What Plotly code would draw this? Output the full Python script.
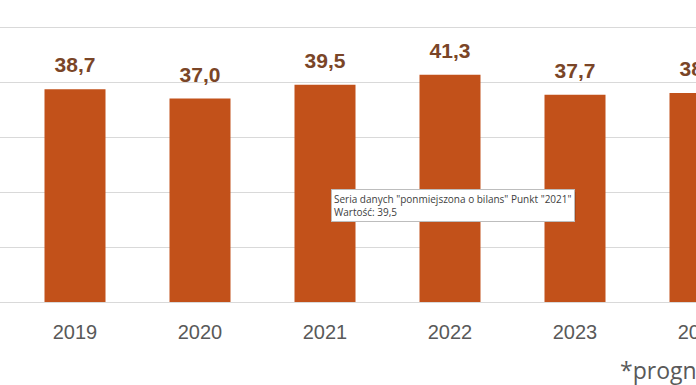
import plotly.graph_objects as go

years = ["2019", "2020", "2021", "2022", "2023", "2024"]
values = [38.7, 37.0, 39.5, 41.3, 37.7, 38.0]
labels = ["38,7", "37,0", "39,5", "41,3", "37,7", "38,0"]
y_ticks = [0, 10, 20, 30, 40, 50]
tooltip_lines = ['Seria danych "ponmiejszona o bilans" Punkt "2021"', "Wartość: 39,5"]
footnote = "*prognoza"

# The reference is a crop of a wider chart: draw it wider and let the window cut it.
W, H = 760, 385
L, R, T, B = 0, 0, 16, 83
plot_h = H - T - B
y_top = 52

fig = go.Figure()
fig.add_trace(go.Bar(
    x=years, y=values,
    marker=dict(color="#C2511A", line=dict(width=0)),
    hoverinfo="skip",
))
fig.add_trace(go.Scatter(
    x=years, y=values, text=labels,
    mode="markers+text", textposition="top center",
    marker=dict(size=17, color="rgba(0,0,0,0)"),
    textfont=dict(family="Liberation Sans, Arial", size=21, color="#7A4527", weight="bold"),
    cliponaxis=True, hoverinfo="skip",
))

fig.update_layout(
    width=W, height=H,
    margin=dict(l=L, r=R, t=T, b=B, pad=0),
    paper_bgcolor="white", plot_bgcolor="white",
    showlegend=False, bargap=0.512,
    xaxis=dict(
        type="category", range=[-0.6, 5.48],
        showgrid=False, showline=True, linecolor="#D9D9D9", linewidth=1,
        ticks="outside", ticklen=12, tickcolor="rgba(0,0,0,0)",
        tickfont=dict(family="Liberation Sans, Arial", size=20, color="#595959"),
    ),
    yaxis=dict(
        range=[0, y_top], tickvals=y_ticks, showticklabels=False,
        showgrid=True, gridcolor="#D9D9D9", gridwidth=1, zeroline=False,
    ),
)

def py(p):
    return (H - B - p) / plot_h

# tooltip shadow
fig.add_shape(
    type="rect", xref="paper", yref="paper",
    x0=333 / W, x1=576 / W, y0=py(192), y1=py(220),
    fillcolor="rgba(0,0,0,0.12)", line=dict(width=0), layer="above",
)
fig.add_annotation(
    xref="paper", yref="paper",
    x=331 / W, y=py(189),
    xanchor="left", yanchor="top", align="left",
    text="<br>".join(tooltip_lines), showarrow=False,
    font=dict(family="Open Sans", size=10, color="#404040"),
    bgcolor="white", bordercolor="#BDBDBD", borderwidth=1, borderpad=2,
)
fig.add_annotation(
    xref="paper", yref="paper",
    x=618 / W, y=py(370),
    xanchor="left", yanchor="middle",
    text=footnote, showarrow=False,
    font=dict(family="Open Sans", size=23, color="#595959"),
)

fig.write_html(
    "out.html",
    config={"displayModeBar": False},
    post_script="document.body.style.margin='0';document.body.style.overflow='hidden';",
)
